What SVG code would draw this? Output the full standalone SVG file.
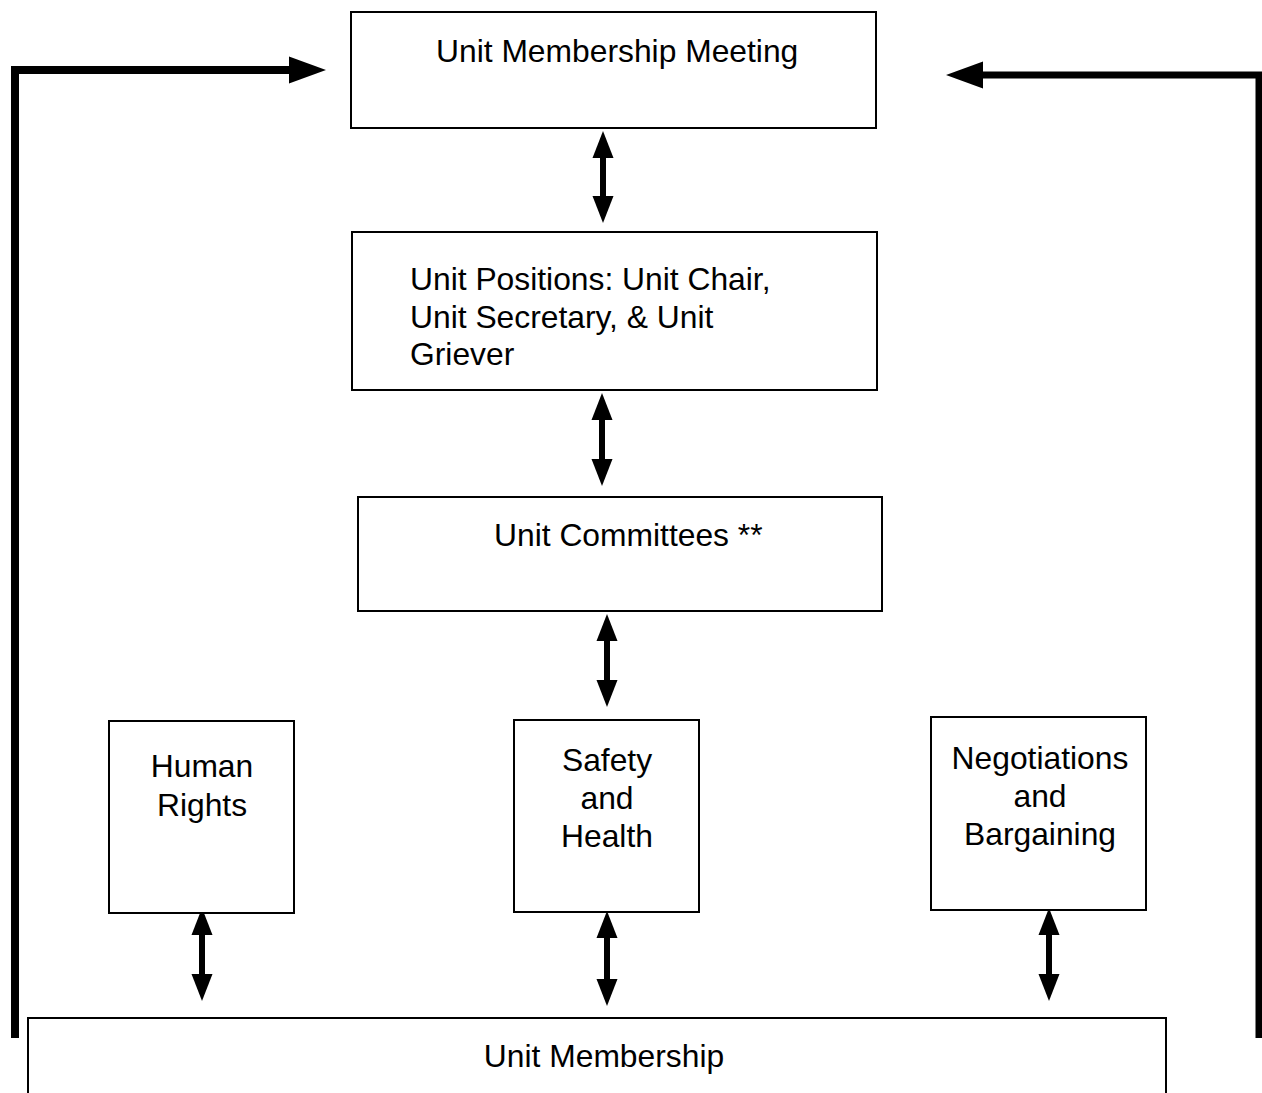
<svg xmlns="http://www.w3.org/2000/svg" width="1262" height="1093" viewBox="0 0 1262 1093">
<style>
.box{fill:#fff;stroke:#000;stroke-width:2}
.t{font-family:"Liberation Sans",Arial,sans-serif;font-size:31.8px;fill:#000}
.c{text-anchor:middle}
.dbl{fill:none;stroke:#000;stroke-width:6;marker-start:url(#sh);marker-end:url(#sh)}
.big{fill:none;stroke:#000;stroke-width:8;stroke-linejoin:miter;marker-end:url(#bh)}
</style>
<defs>
<marker id="sh" markerUnits="userSpaceOnUse" markerWidth="28" markerHeight="22" refX="1" refY="10.5" orient="auto-start-reverse" overflow="visible">
<path d="M0,0 L27,10.5 L0,21 z" fill="#000"/>
</marker>
<marker id="bh" markerUnits="userSpaceOnUse" markerWidth="38" markerHeight="28" refX="1" refY="13.5" orient="auto" overflow="visible">
<path d="M0,0 L37,13.5 L0,27 z" fill="#000"/>
</marker>
</defs>
<g id="connectors">
<path class="big" d="M15,1038 L15,70 L290,70"/>
<path class="big" style="stroke-width:7" d="M1259,1038 L1259,75 L982,75"/>
<line class="dbl" x1="603" y1="157" x2="603" y2="197"/>
<line class="dbl" x1="602" y1="419" x2="602" y2="460"/>
<line class="dbl" x1="607" y1="640" x2="607" y2="681"/>
<line class="dbl" x1="202" y1="934" x2="202" y2="975"/>
<line class="dbl" x1="607" y1="937" x2="607" y2="980"/>
<line class="dbl" x1="1049" y1="934" x2="1049" y2="975"/>
</g>
<g id="meeting">
<rect class="box" x="351" y="12" width="525" height="116"/>
<text class="t" x="436" y="62">Unit Membership Meeting</text>
</g>
<g id="positions">
<rect class="box" x="352" y="232" width="525" height="158"/>
<text class="t" x="410" y="290">Unit Positions: Unit Chair,</text>
<text class="t" x="410" y="328">Unit Secretary, &amp; Unit</text>
<text class="t" x="410" y="365">Griever</text>
</g>
<g id="committees">
<rect class="box" x="358" y="497" width="524" height="114"/>
<text class="t" x="494" y="546">Unit Committees **</text>
</g>
<g id="human-rights">
<rect class="box" x="109" y="721" width="185" height="192"/>
<text class="t c" x="202" y="777">Human</text>
<text class="t c" x="202" y="816">Rights</text>
</g>
<g id="safety">
<rect class="box" x="514" y="720" width="185" height="192"/>
<text class="t c" x="607" y="771">Safety</text>
<text class="t c" x="607" y="809">and</text>
<text class="t c" x="607" y="847">Health</text>
</g>
<g id="negotiations">
<rect class="box" x="931" y="717" width="215" height="193"/>
<text class="t c" x="1040" y="769">Negotiations</text>
<text class="t c" x="1040" y="807">and</text>
<text class="t c" x="1040" y="845">Bargaining</text>
</g>
<g id="membership">
<rect class="box" x="28" y="1018" width="1138" height="100"/>
<text class="t c" x="604" y="1067">Unit Membership</text>
</g>
</svg>
